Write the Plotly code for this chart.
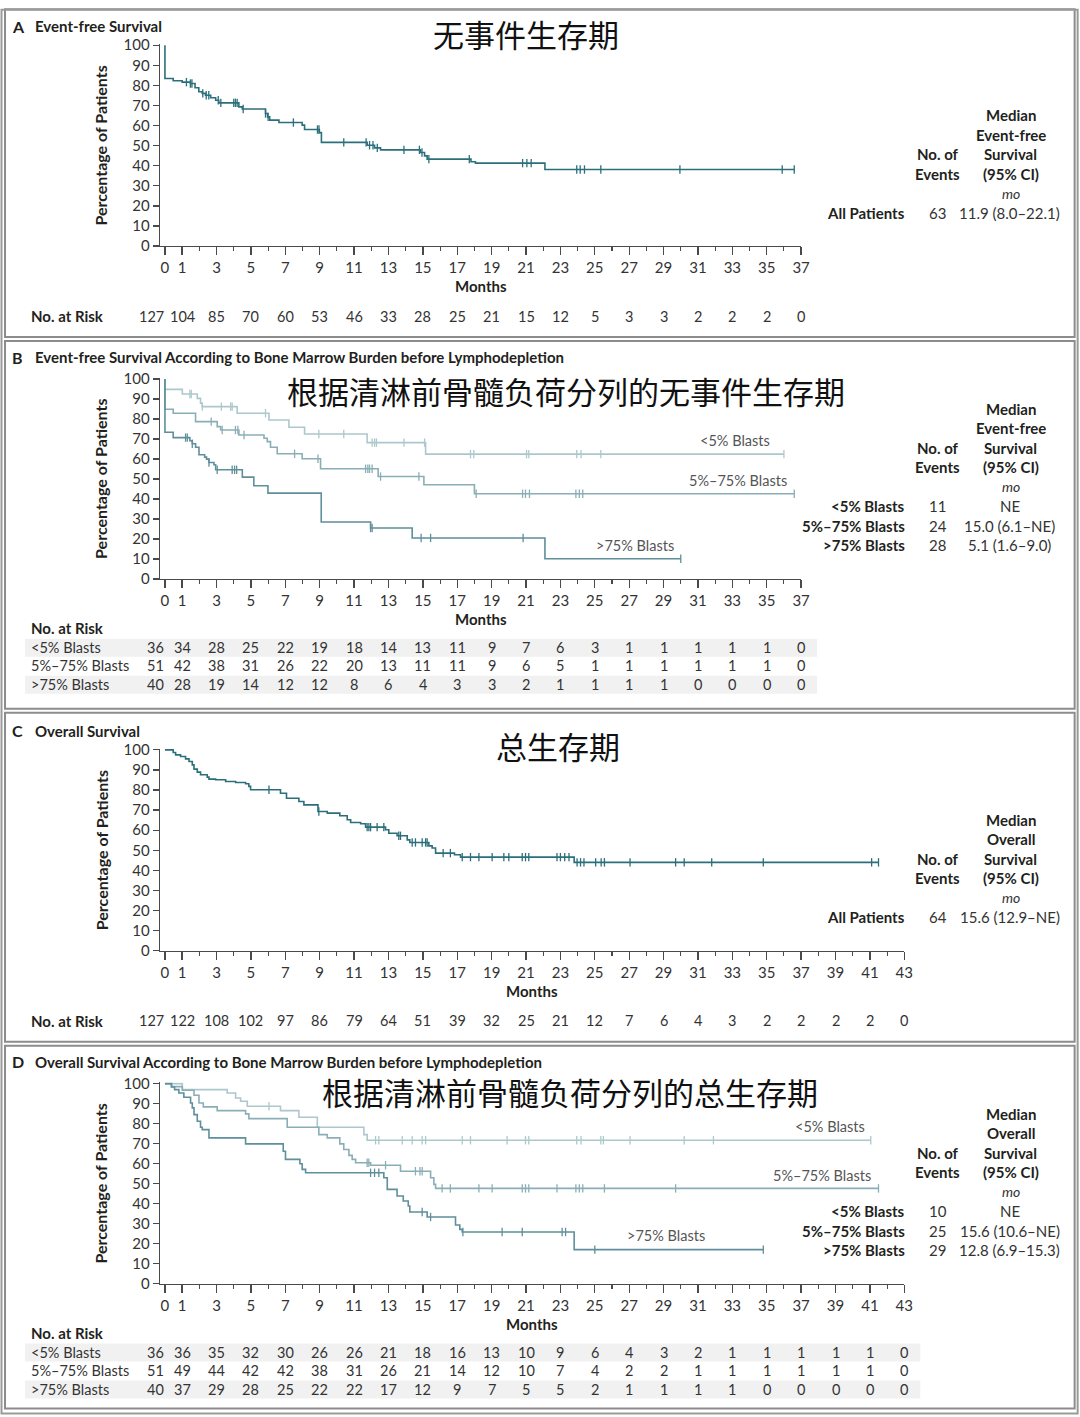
import plotly.graph_objects as go

W, H = 1080, 1417
FONT = "Lato, 'Open Sans', 'DejaVu Sans', sans-serif"
CJK = "'Noto Sans CJK SC', 'Noto Sans CJK JP', sans-serif"
INK = "#231f20"
AXC = "#4a4a4a"

# ------------------------------------------------------------------ data
ticks_37 = [0, 1, 3, 5, 7, 9, 11, 13, 15, 17, 19, 21, 23, 25, 27, 29, 31, 33, 35, 37]
ticks_43 = [0, 1, 3, 5, 7, 9, 11, 13, 15, 17, 19, 21, 23, 25, 27, 29, 31, 33, 35, 37, 39, 41, 43]
y_ticks = [0, 10, 20, 30, 40, 50, 60, 70, 80, 90, 100]

# Panel A: event-free survival, all patients
efs_all_t = [0, 0, 0.48, 1.0, 1.48, 1.75, 1.97, 2.17, 2.36, 2.66, 2.95, 3.13, 4.3, 4.5, 5.85, 5.97, 6.09,
             6.63, 7.98, 8.12, 8.98, 9.1, 11.76, 12.19, 12.54, 14.86, 15.1, 15.25, 17.8, 18.06, 22.1, 36.6]
efs_all_s = [100, 83.4, 82.3, 81.6, 80.9, 78.8, 76.8, 76.0, 75.1, 73.8, 72.6, 71.3, 69.3, 68.2, 66.0, 64.3,
             62.7, 61.5, 60.2, 58.0, 56.5, 51.6, 50.2, 48.9, 47.9, 46.6, 44.9, 43.3, 42.0, 41.3, 38.1, 38.1]
efs_all_cens = [1.25, 1.48, 1.57, 2.2, 2.4, 2.55, 3.1, 3.25, 4.0, 4.1, 4.2, 4.55, 5.85, 6.0, 7.47, 8.87,
                8.96, 10.4, 11.7, 11.9, 12.1, 12.35, 13.9, 14.8, 14.95, 15.35, 17.7, 20.8, 21.05, 21.3,
                23.95, 24.15, 24.4, 25.35, 29.95, 35.9, 36.6]
efs_all_risk = [127, 104, 85, 70, 60, 53, 46, 33, 28, 25, 21, 15, 12, 5, 3, 3, 2, 2, 2, 0]

# Panel B: event-free survival by bone marrow burden
efs_lt5_t = [0, 0, 1.01, 1.88, 2.07, 2.17, 4.2, 6.05, 7.21, 8.12, 11.76, 15.16, 36.0]
efs_lt5_s = [100, 94.8, 92.5, 90.3, 87.9, 86.2, 82.9, 79.5, 75.9, 72.5, 68.2, 62.4, 62.4]
efs_lt5_cens = [1.45, 1.53, 2.17, 3.28, 3.82, 3.91, 5.85, 8.95, 10.4, 12.05, 12.19, 12.3, 13.9, 15.1,
                17.77, 17.96, 21.03, 21.16, 23.95, 24.2, 25.35, 36.0]
efs_mid_t = [0, 0, 0.48, 1.78, 3.04, 3.24, 4.3, 5.76, 5.95, 6.14, 6.53, 7.98, 9.05, 12.4, 15.06, 18.0, 36.6]
efs_mid_s = [100, 84.9, 82.9, 78.7, 76.2, 74.5, 72.0, 70.4, 68.7, 65.9, 62.6, 60.1, 55.1, 51.2, 47.1, 42.6, 42.6]
efs_mid_cens = [2.69, 3.33, 4.1, 4.24, 4.6, 7.54, 8.9, 11.67, 11.8, 11.9, 12.05, 12.54, 14.77, 18.1,
                20.8, 20.97, 21.2, 23.9, 24.1, 24.3, 36.6]
efs_gt75_t = [0, 0, 0.48, 1.45, 1.59, 1.78, 1.98, 2.31, 2.42, 2.56, 2.85, 2.95, 4.5, 5.17, 5.99, 9.09,
              11.96, 14.38, 22.1, 30.0]
efs_gt75_s = [100, 73.4, 70.7, 69.1, 67.6, 65.9, 62.1, 60.9, 59.9, 58.2, 57.1, 54.6, 50.9, 46.6, 42.9,
              28.5, 25.5, 20.5, 10.1, 10.1]
efs_gt75_cens = [1.2, 1.3, 1.59, 2.56, 3.04, 3.91, 4.05, 4.17, 11.96, 12.05, 14.9, 15.45, 20.83, 30.0]
efs_risk_lt5 = [36, 34, 28, 25, 22, 19, 18, 14, 13, 11, 9, 7, 6, 3, 1, 1, 1, 1, 1, 0]
efs_risk_mid = [51, 42, 38, 31, 26, 22, 20, 13, 11, 11, 9, 6, 5, 1, 1, 1, 1, 1, 1, 0]
efs_risk_gt75 = [40, 28, 19, 14, 12, 12, 8, 6, 4, 3, 3, 2, 1, 1, 1, 1, 0, 0, 0, 0]

# Panel C: overall survival, all patients
os_all_t = [0, 0.48, 0.62, 0.91, 1.2, 1.4, 1.59, 1.69, 1.88, 2.07, 2.46, 2.56, 2.95, 3.53, 4.11, 4.69,
            4.88, 4.98, 6.72, 7.07, 7.79, 8.08, 8.9, 9.44, 10.17, 10.6, 10.8, 11.38, 11.67, 12.83, 13.02,
            13.5, 14.09, 14.24, 15.35, 15.54, 15.74, 16.84, 17.19, 23.8, 41.5]
os_all_s = [100, 98.7, 97.5, 96.7, 95.5, 94.2, 92.5, 90.4, 88.9, 87.6, 86.4, 85.4, 85.1, 84.2, 83.7, 83.1,
            81.8, 80.1, 78.4, 75.9, 74.3, 72.6, 69.3, 68.5, 67.2, 65.2, 63.8, 63.2, 61.5, 60.2, 58.5,
            57.2, 55.2, 53.9, 52.2, 51.1, 48.6, 47.8, 46.6, 44.0, 44.0]
os_all_cens = [6.05, 8.95, 11.76, 11.86, 11.96, 12.34, 12.73, 13.6, 13.7, 14.38, 14.57, 14.96, 15.16,
               15.25, 16.18, 16.6, 17.29, 17.77, 18.26, 19.03, 19.71, 20.0, 20.78, 20.97, 21.16, 22.8,
               23.0, 23.25, 23.5, 23.97, 24.17, 24.37, 25.05, 25.37, 25.56, 27.05, 29.7, 30.2, 31.8,
               34.8, 41.1, 41.5]
os_all_risk = [127, 122, 108, 102, 97, 86, 79, 64, 51, 39, 32, 25, 21, 12, 7, 6, 4, 3, 2, 2, 2, 2, 0]

# Panel D: overall survival by bone marrow burden
os_lt5_t = [0, 1.01, 3.62, 4.11, 4.4, 4.79, 6.72, 7.79, 8.86, 11.57, 11.76, 41.05]
os_lt5_s = [100, 97.0, 95.3, 92.8, 91.2, 88.7, 86.5, 83.2, 78.2, 74.5, 71.7, 71.7]
os_lt5_cens = [6.05, 12.25, 12.44, 13.8, 14.38, 14.96, 15.16, 17.29, 17.77, 19.9, 20.97, 21.16, 23.95,
               24.2, 25.35, 25.5, 27.05, 30.2, 31.9, 41.05]
os_mid_t = [0, 0.4, 1.01, 1.69, 1.98, 2.23, 3.04, 4.69, 4.88, 7.11, 8.95, 9.44, 10.17, 10.4, 10.7, 10.89,
            11.09, 11.96, 13.7, 15.45, 15.64, 15.74, 41.5]
os_mid_s = [100, 98.5, 96.7, 94.2, 90.3, 88.4, 86.5, 84.9, 82.5, 78.2, 74.5, 72.9, 69.9, 67.1, 64.1, 62.1,
            60.4, 59.2, 56.2, 52.9, 49.6, 47.6, 47.6]
os_mid_cens = [11.76, 11.86, 12.83, 14.57, 14.83, 14.96, 16.12, 16.6, 18.26, 19.03, 20.78, 20.97, 21.16,
               22.8, 23.9, 24.1, 24.3, 25.56, 29.7, 41.5]
os_gt75_t = [0, 0.37, 0.56, 0.81, 1.1, 1.49, 1.59, 1.69, 1.88, 2.07, 2.17, 2.56, 4.69, 6.88, 7.01, 7.85,
             7.98, 8.18, 12.73, 12.93, 13.5, 13.86, 14.15, 14.24, 15.25, 16.9, 17.15, 17.29, 23.8, 34.8]
os_gt75_s = [100, 98.3, 97.0, 95.3, 93.2, 90.3, 87.9, 84.5, 81.2, 78.2, 77.0, 72.9, 69.9, 66.2, 62.1, 59.9,
             57.1, 55.4, 52.9, 47.1, 43.8, 41.3, 38.8, 35.8, 33.3, 29.3, 27.1, 25.8, 17.0, 17.0]
os_gt75_cens = [11.96, 12.19, 12.44, 14.96, 15.45, 17.33, 19.61, 20.78, 23.1, 23.3, 25.0, 34.8]
os_risk_lt5 = [36, 36, 35, 32, 30, 26, 26, 21, 18, 16, 13, 10, 9, 6, 4, 3, 2, 1, 1, 1, 1, 1, 0]
os_risk_mid = [51, 49, 44, 42, 42, 38, 31, 26, 21, 14, 12, 10, 7, 4, 2, 2, 1, 1, 1, 1, 1, 1, 0]
os_risk_gt75 = [40, 37, 29, 28, 25, 22, 22, 17, 12, 9, 7, 5, 5, 2, 1, 1, 1, 1, 0, 0, 0, 0, 0]

group_labels = ["<5% Blasts", "5%–75% Blasts", ">75% Blasts"]
efs_events = [11, 24, 28]
efs_medians = ["NE", "15.0 (6.1–NE)", "5.1 (1.6–9.0)"]
os_events = [10, 25, 29]
os_medians = ["NE", "15.6 (10.6–NE)", "12.8 (6.9–15.3)"]
all_label = "All Patients"
efs_all_events = 63
efs_all_median = "11.9 (8.0–22.1)"
os_all_events = 64
os_all_median = "15.6 (12.9–NE)"

# ------------------------------------------------------------------ helpers
COL_MAIN = "#2b6f7b"
COL_GROUP = ["#adc8cd", "#8aaeb6", "#5f8f9a"]
SC = 17.2  # px per month (target picture)
X0PX = 165
# small correction for how the page ends up framed in the photograph
KX, KY, OY = 0.992, 0.9885, 8.8


def px(x):
    return (x / KX) / W


def py(y):
    return 1 - ((y - OY) / KY) / H


def esc(s):
    return s.replace("&", "&amp;").replace("<", "&lt;").replace(">", "&gt;")


def surv_at(t, ts, ss):
    v = ss[0]
    for ti, si in zip(ts, ss):
        if ti <= t + 1e-9:
            v = si
        else:
            break
    return v


fig = go.Figure()
annotations = []
shapes = []


def ann(text, x, y, size=14, bold=False, italic=False, color=INK, xanchor="center",
        family=FONT, xref="paper", yref="paper", angle=0, yanchor="middle"):
    t = esc(text)
    if bold:
        t = "<b>" + t + "</b>"
    if italic:
        t = "<i>" + t + "</i>"
    annotations.append(dict(text=t, x=x, y=y, xref=xref, yref=yref, showarrow=False,
                            xanchor=xanchor, yanchor=yanchor, textangle=angle,
                            font=dict(family=family, size=size, color=color)))


panels = [
    dict(letter="A", title="Event-free Survival", title_y=26, cn="无事件生存期", cn_x=526, cn_y=33,
         top=9, bottom=337, y100=45, y0=246, xmax=37, ticks=ticks_37, sfx="",
         curves=[(efs_all_t, efs_all_s, efs_all_cens, COL_MAIN)],
         risk=[(None, efs_all_risk)], risk_head_y=316, risk_rows_y=[316], months_y=286,
         stat_head=["Median", "Event-free", "Survival", "(95% CI)"], stat_y0=115,
         stat_rows=[(all_label, efs_all_events, efs_all_median)], labels=[]),
    dict(letter="B", title="Event-free Survival According to Bone Marrow Burden before Lymphodepletion",
         title_y=357, cn="根据清淋前骨髓负荷分列的无事件生存期", cn_x=566, cn_y=390,
         top=341, bottom=709, y100=379, y0=579, xmax=37, ticks=ticks_37, sfx="2",
         curves=[(efs_lt5_t, efs_lt5_s, efs_lt5_cens, COL_GROUP[0]),
                 (efs_mid_t, efs_mid_s, efs_mid_cens, COL_GROUP[1]),
                 (efs_gt75_t, efs_gt75_s, efs_gt75_cens, COL_GROUP[2])],
         risk=[(group_labels[0], efs_risk_lt5), (group_labels[1], efs_risk_mid),
               (group_labels[2], efs_risk_gt75)],
         risk_head_y=628, risk_rows_y=[648, 666, 685], months_y=619,
         stat_head=["Median", "Event-free", "Survival", "(95% CI)"], stat_y0=409,
         stat_rows=list(zip(group_labels, efs_events, efs_medians)),
         labels=[(group_labels[0], 735, 441), (group_labels[1], 738, 481), (group_labels[2], 635, 546)]),
    dict(letter="C", title="Overall Survival", title_y=731, cn="总生存期", cn_x=558, cn_y=746,
         top=713, bottom=1042, y100=750, y0=951, xmax=43, ticks=ticks_43, sfx="3",
         curves=[(os_all_t, os_all_s, os_all_cens, COL_MAIN)],
         risk=[(None, os_all_risk)], risk_head_y=1021, risk_rows_y=[1021], months_y=991,
         stat_head=["Median", "Overall", "Survival", "(95% CI)"], stat_y0=820,
         stat_rows=[(all_label, os_all_events, os_all_median)], labels=[]),
    dict(letter="D", title="Overall Survival According to Bone Marrow Burden before Lymphodepletion",
         title_y=1062, cn="根据清淋前骨髓负荷分列的总生存期", cn_x=570, cn_y=1092,
         top=1046, bottom=1409, y100=1084, y0=1284, xmax=43, ticks=ticks_43, sfx="4",
         curves=[(os_lt5_t, os_lt5_s, os_lt5_cens, COL_GROUP[0]),
                 (os_mid_t, os_mid_s, os_mid_cens, COL_GROUP[1]),
                 (os_gt75_t, os_gt75_s, os_gt75_cens, COL_GROUP[2])],
         risk=[(group_labels[0], os_risk_lt5), (group_labels[1], os_risk_mid),
               (group_labels[2], os_risk_gt75)],
         risk_head_y=1333, risk_rows_y=[1353, 1371, 1390], months_y=1324,
         stat_head=["Median", "Overall", "Survival", "(95% CI)"], stat_y0=1114,
         stat_rows=list(zip(group_labels, os_events, os_medians)),
         labels=[(group_labels[0], 830, 1127), (group_labels[1], 822, 1176), (group_labels[2], 666, 1236)]),
]

layout_axes = {}
for p in panels:
    sfx = p["sfx"]
    xa, ya = "x" + sfx, "y" + sfx
    xname, yname = "xaxis" + sfx, "yaxis" + sfx
    yscale = (p["y0"] - p["y100"]) / 100.0
    ytop = p["y0"] - 100.6 * yscale
    x_right_px = X0PX + p["xmax"] * SC
    layout_axes[xname] = dict(
        domain=[px(160), px(x_right_px)], range=[-5 / SC, p["xmax"]], anchor=ya,
        showline=True, linecolor=AXC, linewidth=1.3, ticks="outside", ticklen=8, tickwidth=1.3,
        tickcolor=AXC, tickmode="array", tickvals=p["ticks"], ticktext=[str(v) for v in p["ticks"]],
        tickfont=dict(family=FONT, size=15, color="#333"),
        minor=dict(tickmode="linear", tick0=0, dtick=1, ticks="outside", ticklen=4, tickwidth=1.1,
                   tickcolor=AXC),
        showgrid=False, zeroline=False, fixedrange=True)
    layout_axes[yname] = dict(
        domain=[py(p["y0"]), py(ytop)], range=[0, 100.6], anchor=xa,
        showline=True, linecolor=AXC, linewidth=1.3, ticks="outside", ticklen=6, tickwidth=1.3,
        tickcolor=AXC, tickmode="array", tickvals=y_ticks, ticktext=[str(v) for v in y_ticks],
        tickfont=dict(family=FONT, size=15, color="#333"),
        showgrid=False, zeroline=False, fixedrange=True)

    for (ts, ss, cens, col) in p["curves"]:
        fig.add_trace(go.Scatter(x=ts, y=ss, mode="lines", xaxis=xa, yaxis=ya,
                                 line=dict(shape="hv", color=col, width=1.6),
                                 showlegend=False, hoverinfo="skip"))
        fig.add_trace(go.Scatter(x=cens, y=[surv_at(c, ts, ss) for c in cens], mode="markers",
                                 xaxis=xa, yaxis=ya,
                                 marker=dict(symbol="line-ns", size=6, color=col,
                                             line=dict(width=1.3, color=col)),
                                 showlegend=False, hoverinfo="skip", cliponaxis=False))

    # panel frame
    shapes.append(dict(type="rect", xref="paper", yref="paper", x0=px(5), x1=px(1075),
                       y0=py(p["bottom"]), y1=py(p["top"]),
                       line=dict(color="#8c8c8c", width=2), fillcolor="rgba(0,0,0,0)"))

    # titles
    ann(p["letter"], px(10), py(p["title_y"]), size=16, bold=True, xanchor="left")
    ann(p["title"], px(33), py(p["title_y"]), size=15, bold=True, xanchor="left")
    ann(p["cn"], px(p["cn_x"]), py(p["cn_y"]), size=31, family=CJK, color="#111")

    # axis titles
    ann("Percentage of Patients", px(101), py((p["y0"] + p["y100"]) / 2), size=16, bold=True, angle=-90)
    ann("Months", px((160 + x_right_px) / 2), py(p["months_y"]), size=15, bold=True)

    # risk table
    ann("No. at Risk", px(29), py(p["risk_head_y"]), size=15, bold=True, xanchor="left")
    multi = p["risk"][0][0] is not None
    stripe_right = x_right_px + 16
    for i, ((lab, vals), ry) in enumerate(zip(p["risk"], p["risk_rows_y"])):
        if multi:
            if i % 2 == 0:
                shapes.append(dict(type="rect", xref="paper", yref="paper", x0=px(25), x1=px(stripe_right),
                                   y0=py(ry + 9), y1=py(ry - 9), line=dict(width=0),
                                   fillcolor="#f1f1f1", layer="below"))
            ann(lab, px(29), py(ry), size=14.5, xanchor="left", color="#333")
        for m, v in zip(p["ticks"], vals):
            if m == 0:
                ann(str(v), 0.05, py(ry), size=14.5, xanchor="right", xref=xa, color="#333")
            else:
                ann(str(v), m, py(ry), size=14.5, xref=xa, color="#333")

    # curve labels
    for (lab, lx, ly) in p["labels"]:
        ann(lab, px(lx), py(ly), size=14.5, color="#555")

    # stats table
    sy = p["stat_y0"]
    step = 19.5
    for j, line in enumerate(p["stat_head"]):
        ann(line, px(1011), py(sy + j * step), size=15, bold=True)
    ann("No. of", px(938), py(sy + 2 * step), size=15, bold=True)
    ann("Events", px(938), py(sy + 3 * step), size=15, bold=True)
    ann("mo", px(1011), py(sy + 4 * step), size=14, italic=True, color="#333")
    for k, (lab, ev, med) in enumerate(p["stat_rows"]):
        ry = sy + (5 + k) * step
        ann(lab, px(907), py(ry), size=15, bold=True, xanchor="right")
        ann(str(ev), px(938), py(ry), size=15, color="#333")
        ann(med, px(1010), py(ry), size=15, color="#333")

# outer frame
shapes.append(dict(type="rect", xref="paper", yref="paper", x0=px(1.5), x1=px(1078), y0=py(1414), y1=py(9.5),
                   line=dict(color="#9a9a9a", width=2), fillcolor="rgba(0,0,0,0)"))

fig.update_layout(width=W, height=H, autosize=False, margin=dict(l=0, r=0, t=0, b=0),
                  paper_bgcolor="white", plot_bgcolor="white", showlegend=False,
                  annotations=annotations, shapes=shapes, **layout_axes)

fig.write_html("out.html", config={"displayModeBar": False, "staticPlot": True},
               post_script="var gd=document.getElementById('{plot_id}');"
                           "gd.style.position='fixed';gd.style.top='0px';gd.style.left='0px';"
                           "document.documentElement.style.margin='0';"
                           "document.documentElement.style.overflow='hidden';"
                           "document.body.style.margin='0';document.body.style.padding='0';"
                           "document.body.style.overflow='hidden';")
